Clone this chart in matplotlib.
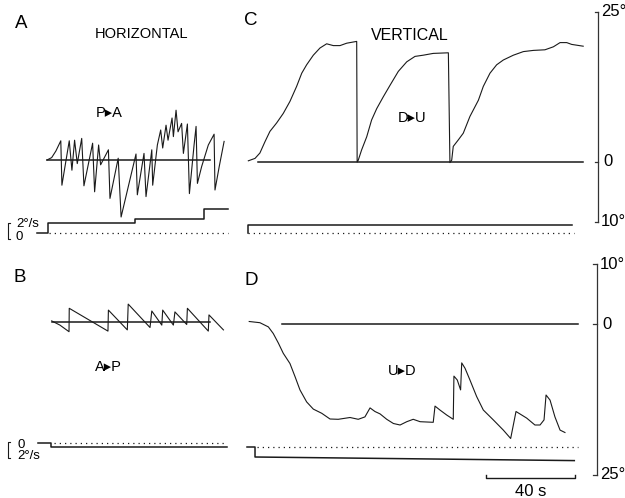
import matplotlib
matplotlib.use("Agg")
import matplotlib.pyplot as plt

plt.rcParams['font.family'] = ['Liberation Sans', 'DejaVu Sans']

W, H = 625, 498
SEC = 2.225   # px per second
DEG = 6.0     # px per degree of eye position
VEL = 8.0     # px per deg/s of table velocity

# A: horizontal, P->A  (time s, eye position deg)
a_t = [0.0, 2.1, 4.0, 6.2, 6.7, 10.0, 11.2, 12.4, 13.6, 15.6, 16.6, 20.5, 21.4, 23.2,
       24.1, 27.6, 28.3, 32.0, 33.3, 40.0, 40.6, 43.6, 44.5, 47.1, 47.5, 49.6, 51.1,
       52.0, 53.5, 54.4, 56.2, 56.8, 58.0, 58.9, 60.5, 61.3, 63.1, 64.0, 66.1, 67.0,
       67.6, 69.5, 72.5, 75.1, 75.5, 77.4, 79.6]
a_pos = [0.0, 0.4, 1.5, 3.2, -4.2, 3.2, -1.7, 3.3, -0.6, 3.6, -4.3, 2.8, -5.3, 2.5,
         -0.8, 1.7, -6.4, 0.3, -9.5, 1.0, -5.8, 1.1, -6.1, 1.7, -4.2, 2.5, 5.0,
         2.0, 5.8, 3.3, 7.0, 3.9, 8.3, 4.7, 6.1, 1.1, 6.0, -5.6, 2.5, 5.6,
         -3.9, -1.1, 2.5, 4.3, -5.0, -1.1, 3.1]
a_zero_t = [0.0, 73.3]
a_stim_t = [-4.5, 0.5, 0.5, 39.5, 39.5, 70.5, 70.5, 81.5]
a_stim_v = [0, 0, 1.2, 1.2, 1.75, 1.75, 2.9, 2.9]
a_dot_t = [1.0, 81.5]

# B: horizontal, A->P
b_t = [0.3, 4.0, 8.1, 8.2, 25.6, 25.8, 34.3, 34.7, 44.5, 45.3, 49.8, 50.2, 55.0,
       55.7, 61.0, 61.3, 70.7, 71.0, 77.5]
b_pos = [0.1, -0.6, -1.7, 2.2, -1.6, 1.9, -1.4, 2.9, -1.0, 1.75, -0.6, 1.9, -0.6,
         1.6, -0.5, 2.2, -1.6, 1.1, -1.4]
b_zero_t = [0.3, 71.5]
b_stim_t = [-5.9, 0.0, 0.0, 79.0]
b_stim_v = [0, 0, -0.4, -0.4]
b_dot_t = [1.5, 79.0]

# C: vertical, D->U
c_t = [1.5, 4.5, 6.7, 9.0, 11.2, 14.2, 17.2, 20.2, 23.2, 25.5, 27.7, 30.7, 33.7,
       36.7, 39.7, 42.7, 45.7, 50.2, 50.4, 50.9, 52.4, 54.7, 56.9, 59.2, 62.2, 65.2,
       68.9, 72.7, 76.4, 80.1, 84.6, 91.4, 92.1, 92.9, 93.6, 95.9, 98.1, 101.1,
       104.9, 107.1, 110.1, 113.1, 116.1, 120.6, 125.1, 129.6, 134.8, 138.6, 141.6,
       144.6, 146.8, 152.0]
c_pos = [0.2, 0.6, 1.5, 3.4, 5.1, 6.5, 8.1, 10.1, 12.6, 14.8, 16.2, 17.8, 19.0,
         19.7, 19.4, 19.4, 19.8, 20.1, 0.0, 0.3, 2.0, 4.2, 7.0, 8.9, 10.9, 12.8,
         15.1, 16.7, 17.6, 17.8, 18.1, 18.2, -0.1, 0.3, 2.6, 3.7, 4.8, 7.6,
         10.3, 12.6, 14.8, 16.2, 17.0, 17.8, 18.4, 18.6, 18.7, 19.2, 19.9,
         19.9, 19.6, 19.3]
c_zero_t = [5.8, 152.0]
c_stim_t = [1.5, 1.5, 146.8]
c_stim_v = [0, 1.05, 1.05]
c_dot_t = [1.5, 148.0]

# D: vertical, U->D
d_t = [1.9, 6.7, 10.5, 12.7, 15.0, 17.2, 20.2, 22.5, 24.7, 27.7, 30.7, 34.5, 38.2,
       41.9, 47.2, 50.9, 53.9, 56.2, 58.4, 60.7, 63.7, 66.7, 69.7, 72.7, 75.6, 78.7,
       84.6, 85.4, 87.6, 90.7, 93.6, 93.9, 95.4, 96.9, 97.4, 98.9, 101.1, 104.1,
       107.1, 111.6, 116.1, 119.4, 121.8, 126.6, 130.3, 132.6, 134.4, 135.3, 137.1,
       139.3, 141.6, 143.8]
d_pos = [0.5, 0.3, -0.4, -1.5, -3.1, -4.8, -6.5, -8.7, -10.9, -12.9, -14.1, -14.8,
         -15.75, -15.8, -15.5, -15.8, -15.4, -13.9, -14.5, -14.9, -15.8, -16.5,
         -16.75, -16.2, -15.8, -16.2, -16.3, -13.6, -14.25, -15.1, -15.8, -8.6,
         -9.25, -10.9, -6.4, -7.3, -9.25, -12.0, -14.25, -15.9, -17.6, -19.0,
         -14.5, -15.6, -16.75, -16.75, -15.9, -11.75, -12.6, -15.4, -17.6, -18.0]
d_zero_t = [16.6, 149.7]
d_stim_t = [0.9, 4.5, 4.5, 148.0]
d_stim_v = [0, 0, -1.25, -1.7]
d_dot_t = [5.3, 149.8]

fig = plt.figure(figsize=(W / 100, H / 100), dpi=100)


def layer(x0, y0, ypx):
    # full-figure transparent axes; x0/y0 = pixel position of t=0 / value 0
    ax = fig.add_axes([0, 0, 1, 1])
    ax.set_xlim(-x0 / SEC, (W - x0) / SEC)
    ax.set_ylim((y0 - H) / ypx, y0 / ypx)
    ax.axis('off')
    ax.patch.set_visible(False)
    return ax


ink = '#1a1a1a'
dots = dict(color=ink, lw=0.9, linestyle=(0, (1, 3.2)))


def panel(eye_x0, eye_y0, stim_y0, t, pos, zero_t, st_t, st_v, dot_t):
    ax = layer(eye_x0, eye_y0, DEG)
    ax.plot(zero_t, [0, 0], color=ink, lw=1.1)
    ax.plot(t, pos, color=ink, lw=0.8)
    sx = layer(eye_x0, stim_y0, VEL)
    sx.plot(st_t, st_v, color=ink, lw=1.1)
    sx.plot(dot_t, [0, 0], **dots)
    return ax


ax_a = panel(47, 160, 232.5, a_t, a_pos, a_zero_t, a_stim_t, a_stim_v, a_dot_t)
ax_b = panel(51, 321.5, 443.3, b_t, b_pos, b_zero_t, b_stim_t, b_stim_v, b_dot_t)
ax_c = panel(245, 162, 233.3, c_t, c_pos, c_zero_t, c_stim_t, c_stim_v, c_dot_t)
ax_d = panel(245, 324.5, 447, d_t, d_pos, d_zero_t, d_stim_t, d_stim_v, d_dot_t)


def deg_bar(ax, tx, top, bottom, top_lbl, bot_lbl):
    ax.plot([tx, tx], [bottom, top], color='#333333', lw=0.9)
    for v in (top, 0, bottom):
        ax.plot([tx - 1.6, tx], [v, v], color='#333333', lw=0.9)
    ax.text(tx + 1.3, top, top_lbl, fontsize=12, ha='left', va='center')
    ax.text(tx + 2.2, 0, '0', fontsize=12, ha='left', va='center')
    ax.text(tx + 1.3, bottom, bot_lbl, fontsize=12, ha='left', va='center')


deg_bar(ax_c, 158.7, 25, -10, '25°', '10°')
deg_bar(ax_d, 158.2, 10, -25, '10°', '25°')

# 40 s time bar
ax_d.plot([108.5, 108.5, 148.5, 148.5], [-25.1, -25.6, -25.6, -25.1], color=ink, lw=1.0)
ax_d.text(128.5, -27.9, '40 s', fontsize=12, ha='center', va='center')

# labels in pixel space
txt = layer(0, 0, 1)
txt.set_xlim(0, W)
txt.set_ylim(H, 0)
for s, x, y in [('A', 21, 28), ('B', 19.5, 282), ('C', 251, 25), ('D', 251, 285)]:
    txt.text(x, y, s, fontsize=13.5, ha='center', va='baseline')
txt.text(141, 38, 'HORIZONTAL', fontsize=10.5, ha='center', va='baseline')
txt.text(410, 40, 'VERTICAL', fontsize=11.5, ha='center', va='baseline')
for s, x, y in [('P\u25B8A', 109, 117), ('D\u25B8U', 412, 122),
                ('A\u25B8P', 108, 371), ('U\u25B8D', 402, 375)]:
    txt.text(x, y, s, fontsize=10.5, ha='center', va='baseline')

# velocity calibration brackets
txt.plot([10, 7.5, 7.5, 10], [222.7, 222.7, 239.3, 239.3], color=ink, lw=0.8)
txt.text(16, 227, '2°/s', fontsize=9.5, ha='left', va='baseline')
txt.text(16, 240, '0', fontsize=9.5, ha='left', va='baseline')
txt.plot([10, 7.5, 7.5, 10], [441.7, 441.7, 458.3, 458.3], color=ink, lw=0.8)
txt.text(17, 447.5, '0', fontsize=9.5, ha='left', va='baseline')
txt.text(17, 458.5, '2°/s', fontsize=9.5, ha='left', va='baseline')

fig.savefig('out.png', dpi=100)
